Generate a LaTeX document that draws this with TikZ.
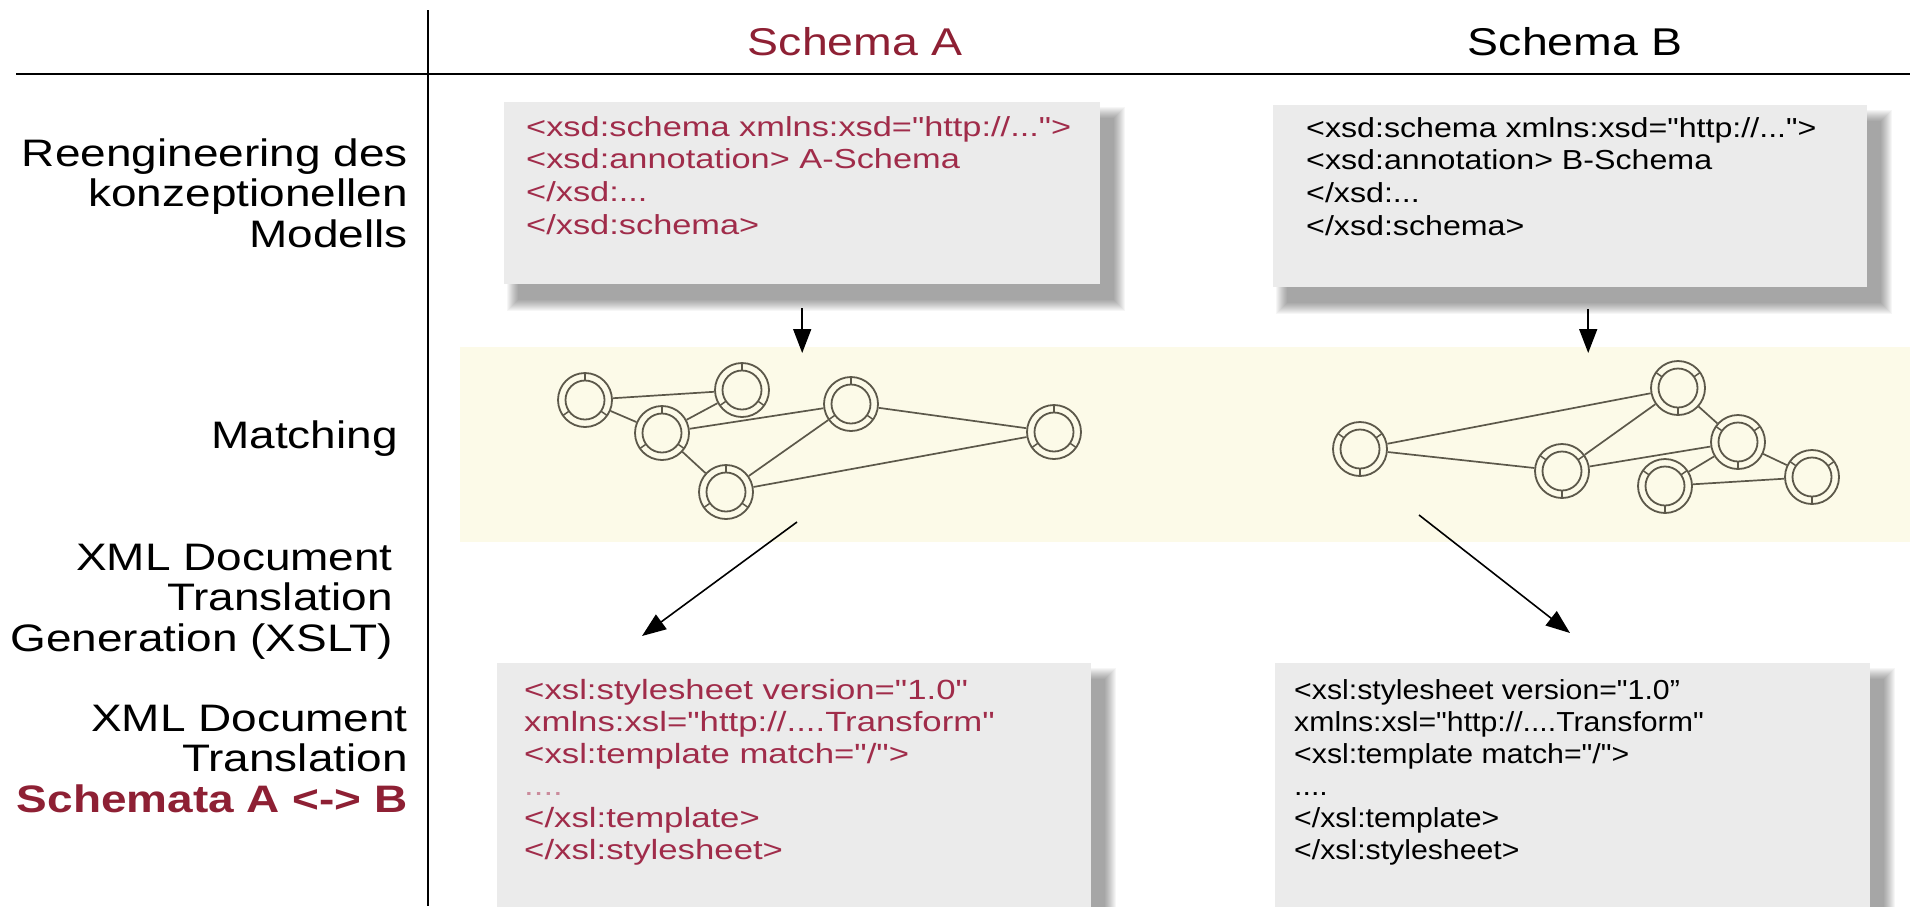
\documentclass[tikz,border=0pt]{standalone}
\usepackage{fontspec}
% the slide text is set a little wide: a stretched sans face throughout
\setmainfont{Liberation Sans}[FakeStretch=1.2]
% code listings use plain straight quotes, so no TeX ligature mapping here
\newfontfamily\codefont{Liberation Sans}[FakeStretch=1.25]
\newfontfamily\codefontB{Liberation Sans}[FakeStretch=1.17]
\newfontfamily\codefontC{Liberation Sans}[FakeStretch=1.1]
\usetikzlibrary{arrows.meta}

\definecolor{schemared}{RGB}{142,32,52}
\definecolor{codered}{RGB}{160,44,74}
\definecolor{boxgray}{RGB}{235,235,235}
\definecolor{bandyellow}{RGB}{252,250,232}
\definecolor{ringcol}{RGB}{92,88,74}

\pgfdeclarelayer{back}
\pgfsetlayers{back,main}

\begin{document}
\begin{tikzpicture}[x=1pt, y=-1pt,
  rowlabel/.style={inner sep=0pt, anchor=base east, font=\fontsize{38.3}{40.8}\selectfont},
  header/.style={inner sep=0pt, anchor=base, font=\fontsize{38.7}{40}\selectfont},
  codebox/.style={rectangle, fill=boxgray, inner sep=0pt, anchor=north west},
  codetext/.style={inner sep=0pt, anchor=base west},
  band/.style={rectangle, fill=bandyellow, inner sep=0pt, anchor=north west},
  gnode/.style={circle, draw=ringcol, line width=1.8pt, minimum size=54pt, inner sep=0pt,
    path picture={
      \draw[ringcol, line width=1.8pt] (path picture bounding box.center) circle[radius=19.5pt];
      \foreach \a in {#1}{
        \draw[ringcol, line width=1.5pt] (path picture bounding box.center) ++(\a:19.5pt) -- ++(\a:9pt);
      }
    }},
  gA/.style={gnode={90,215,325}},
  gB/.style={gnode={270,145,35}},
  edge/.style={draw=ringcol, line width=1.7pt},
  arr/.style={-{Triangle[length=24pt,width=18pt]}, line width=1.6pt},
  rule/.style={line width=2pt}
]
\useasboundingbox (0,0) rectangle (1910,906);
\clip (0,0) rectangle (1910,906);

% table rules
\coordinate (vtop) at (428,10);
\coordinate (vbot) at (428,906);
\coordinate (hl) at (16,74);
\coordinate (hr) at (1910,74);
\draw[rule] (vtop) -- (vbot);
\draw[rule] (hl) -- (hr);

% column headers
\node[header, text=schemared] (hdrA) at (855,55) {Schema A};
\node[header] (hdrB) at (1575,55) {Schema B};

% row labels
\node[rowlabel] (rowReeng) at (408,166)
  {\parbox[t]{400pt}{\raggedleft Reengineering des\\konzeptionellen\\Modells}};
\node[rowlabel] (rowMatch) at (398,448) {Matching};
\node[rowlabel] (rowGen) at (393,570)
  {\parbox[t]{400pt}{\raggedleft XML Document\\Translation\\Generation (XSLT)}};
\node[rowlabel] (rowTrans) at (408,731)
  {\parbox[t]{400pt}{\raggedleft XML Document\\Translation\\{\bfseries\color{schemared}Schemata A <-> B}}};

% matching band
\node[band, minimum width=1450pt, minimum height=195pt] (bandA) at (460,347) {};

% code boxes
\node[codebox, minimum width=596pt, minimum height=182pt] (boxA1) at (504,102) {};
\node[codebox, minimum width=594pt, minimum height=182pt] (boxB1) at (1273,105) {};
\node[codebox, minimum width=594pt, minimum height=300pt] (boxA2) at (497,663) {};
\node[codebox, minimum width=595pt, minimum height=300pt] (boxB2) at (1275,663) {};

% soft drop shadows behind the boxes
\begin{pgfonlayer}{back}
  \foreach \b in {boxA1,boxB1,boxA2,boxB2}{
    \foreach \i in {1,...,12}{
      \fill[black, opacity=0.034]
        ([shift={(2+\i,4+\i)}]\b.north west) rectangle ([shift={(26-\i,28-\i)}]\b.south east);
    }
  }
\end{pgfonlayer}

% code listings
\node[codetext, text=codered, font=\codefont\fontsize{27.5}{32.7}\selectfont] (codeA1) at (526,136)
  {\parbox[t]{570pt}{%
  <xsd:schema xmlns:xsd="http://...">\\
  <xsd:annotation> A-Schema\\
  </xsd:...\\
  </xsd:schema>}};
\node[codetext, font=\codefontB\fontsize{27.5}{32.7}\selectfont] (codeB1) at (1306,137)
  {\parbox[t]{570pt}{%
  <xsd:schema xmlns:xsd="http://...">\\
  <xsd:annotation> B-Schema\\
  </xsd:...\\
  </xsd:schema>}};
\node[codetext, text=codered, font=\codefont\fontsize{27.8}{32}\selectfont] (codeA2) at (524,699)
  {\parbox[t]{570pt}{%
  <xsl:stylesheet version="1.0"\\
  xmlns:xsl="http://....Transform"\\
  <xsl:template match="/">\\
  {\color{codered!55}....}\\
  </xsl:template>\\
  </xsl:stylesheet>}};
\node[codetext, font=\codefontC\fontsize{27.5}{32}\selectfont] (codeB2) at (1294,699)
  {\parbox[t]{570pt}{%
  <xsl:stylesheet version="1.0”\\
  xmlns:xsl="http://....Transform"\\
  <xsl:template match="/">\\
  ....\\
  </xsl:template>\\
  </xsl:stylesheet>}};

% schema graph A
\node[gA] (a1) at (585,400) {};
\node[gA] (a2) at (742,390) {};
\node[gA] (a3) at (662,433) {};
\node[gA] (a4) at (851,404) {};
\node[gA] (a5) at (1054,432) {};
\node[gA] (a6) at (726,492) {};
\draw[edge] (a1) -- (a2);
\draw[edge] (a1) -- (a3);
\draw[edge] (a3) -- (a2);
\draw[edge] (a3) -- (a4);
\draw[edge] (a3) -- (a6);
\draw[edge] (a6) -- (a4);
\draw[edge] (a4) -- (a5);
\draw[edge] (a6) -- (a5);

% schema graph B
\node[gB] (b1) at (1360,449) {};
\node[gB] (b2) at (1678,388) {};
\node[gB] (b3) at (1738,442) {};
\node[gB] (b4) at (1562,471) {};
\node[gB] (b5) at (1665,486) {};
\node[gB] (b6) at (1812,477) {};
\draw[edge] (b1) -- (b2);
\draw[edge] (b1) -- (b4);
\draw[edge] (b4) -- (b2);
\draw[edge] (b4) -- (b3);
\draw[edge] (b2) -- (b3);
\draw[edge] (b3) -- (b5);
\draw[edge] (b3) -- (b6);
\draw[edge] (b5) -- (b6);

% flow arrows
\draw[arr] ([yshift=-24pt]boxA1.south) -- ([yshift=-6pt]boxA1.south |- bandA.north);
\draw[arr] ([xshift=18pt,yshift=-22pt]boxB1.south) -- ([xshift=18pt,yshift=-6pt]boxB1.south |- bandA.north);
\coordinate (fromA) at (797,522);
\coordinate (toA) at (642,636);
\coordinate (fromB) at (1419,515);
\coordinate (toB) at (1570,633);
\draw[arr] (fromA) -- (toA);
\draw[arr] (fromB) -- (toB);
\end{tikzpicture}
\end{document}
